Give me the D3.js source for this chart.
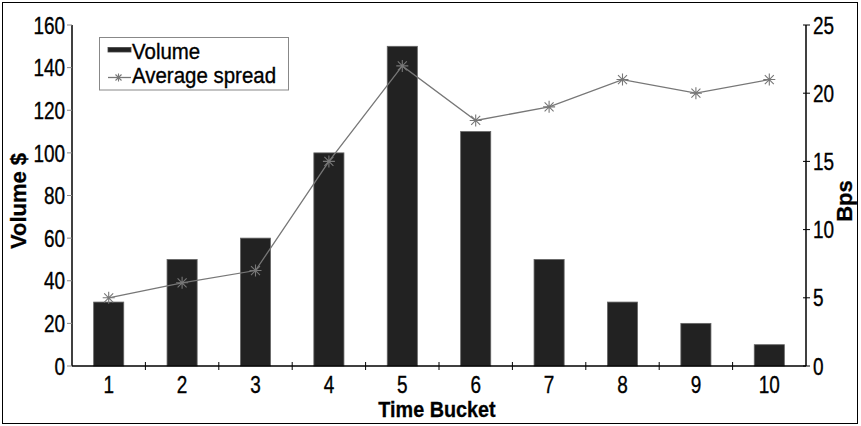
<!DOCTYPE html>
<html><head><meta charset="utf-8">
<script src="https://cdn.jsdelivr.net/npm/d3@7"></script>
<style>body{margin:0;background:#fff}svg{display:block}</style>
</head><body>
<script>
const categories = ["1","2","3","4","5","6","7","8","9","10"];
const volume = [30,50,60,100,150,110,50,30,20,10];
const spread = [5,6.1,7,15,22,18,19,21,20,21];
const leftTicks = [0,20,40,60,80,100,120,140,160];
const rightTicks = [0,5,10,15,20,25];

const W=861,H=426;
const FONT='"Liberation Sans",Arial,Helvetica,sans-serif';
const svg=d3.select("body").append("svg").attr("width",W).attr("height",H);
svg.append("rect").attr("x",2.5).attr("y",2.5).attr("width",855).attr("height",421)
  .attr("fill","#fff").attr("stroke","#000").attr("stroke-width",1);

const L=72,R=806,T=25,B=366;
const x=d3.scaleBand().domain(categories).range([L,R]).paddingInner(0.59).paddingOuter(0.295);
const xb=d3.scaleBand().domain(categories).range([L,R]);
const yL=d3.scaleLinear().domain([0,160]).range([B,T]);
const yR=d3.scaleLinear().domain([0,25]).range([B,T]);

function label(g,tx,ty,txt,opts){
  const o=Object.assign({size:24,sx:0.79,anchor:"start",weight:"normal",rot:0,dy:"0",sw:0.35},opts||{});
  const gg=g.append("g").attr("transform",`translate(${tx},${ty}) rotate(${o.rot}) scale(${o.sx},1)`);
  gg.append("text").attr("text-anchor",o.anchor).attr("dy",o.dy).attr("font-family",FONT)
    .attr("font-size",o.size).attr("font-weight",o.weight).attr("fill","#000")
    .attr("stroke","#000").attr("stroke-width",o.sw).text(txt);
}

// bars
svg.append("g").selectAll("rect").data(volume).join("rect")
  .attr("x",(d,i)=>x(categories[i])).attr("width",x.bandwidth())
  .attr("y",d=>yL(d)).attr("height",d=>B-yL(d))
  .attr("fill","#222").attr("stroke","#666").attr("stroke-width",0.8);

// line
const line=d3.line().x((d,i)=>xb(categories[i])+xb.bandwidth()/2).y(d=>yR(d));
svg.append("path").datum(spread).attr("d",line).attr("fill","none").attr("stroke","#777").attr("stroke-width",1.3);
function star(g,cx,cy,r){
  g.append("path").attr("d",`M${cx-r},${cy}L${cx+r},${cy}M${cx},${cy-r}L${cx},${cy+r}M${cx-r*0.75},${cy-r*0.75}L${cx+r*0.75},${cy+r*0.75}M${cx-r*0.75},${cy+r*0.75}L${cx+r*0.75},${cy-r*0.75}`)
   .attr("stroke","#777").attr("stroke-width",1.1).attr("fill","none");
}
const mg=svg.append("g");
spread.forEach((d,i)=>star(mg,xb(categories[i])+xb.bandwidth()/2,yR(d),6));

// left axis
const gl=svg.append("g");
gl.append("line").attr("x1",L).attr("x2",L).attr("y1",T).attr("y2",B).attr("stroke","#000").attr("stroke-width",1.5);
leftTicks.forEach(t=>{
  gl.append("line").attr("x1",L-5).attr("x2",L).attr("y1",yL(t)).attr("y2",yL(t)).attr("stroke","#888");
  label(gl,L-7,yL(t),t,{anchor:"end",dy:"0.36em"});
});
// right axis
const gr=svg.append("g");
gr.append("line").attr("x1",R).attr("x2",R).attr("y1",T).attr("y2",B).attr("stroke","#000").attr("stroke-width",1.5);
rightTicks.forEach(t=>{
  gr.append("line").attr("x1",R-3).attr("x2",R+4).attr("y1",yR(t)).attr("y2",yR(t)).attr("stroke","#000");
  label(gr,R+7,yR(t),t,{anchor:"start",dy:"0.36em"});
});
// bottom axis
const gb=svg.append("g");
gb.append("line").attr("x1",L).attr("x2",R).attr("y1",B).attr("y2",B).attr("stroke","#000").attr("stroke-width",1.5);
categories.forEach((c,i)=>{
  if(i>0) gb.append("line").attr("x1",xb(c)).attr("x2",xb(c)).attr("y1",B-4).attr("y2",B+4).attr("stroke","#000");
  label(gb,xb(c)+xb.bandwidth()/2,392.5,c,{anchor:"middle"});
});
// titles
label(svg,437,416.5,"Time Bucket",{anchor:"middle",weight:"bold",size:22,sx:0.9,sw:0.3});
label(svg,26,201,"Volume $",{anchor:"middle",weight:"bold",size:22,sx:1,rot:-90,sw:0.3});
label(svg,852,201,"Bps",{anchor:"middle",weight:"bold",size:22,sx:1,rot:-90,sw:0.3});

// legend
const lg=svg.append("g");
lg.append("rect").attr("x",99.5).attr("y",37.5).attr("width",189).attr("height",52.5).attr("fill","#fff").attr("stroke","#888");
lg.append("rect").attr("x",108).attr("y",47.5).attr("width",23).attr("height",4.5).attr("fill","#222").attr("stroke","#444").attr("stroke-width",0.8);
label(lg,132,58.5,"Volume",{size:22,sx:0.93});
lg.append("line").attr("x1",108).attr("x2",131).attr("y1",77.5).attr("y2",77.5).attr("stroke","#777").attr("stroke-width",1.3);
star(lg,118.5,77.5,4);
label(lg,132,82.5,"Average spread",{size:22,sx:0.93});
</script>
</body></html>
